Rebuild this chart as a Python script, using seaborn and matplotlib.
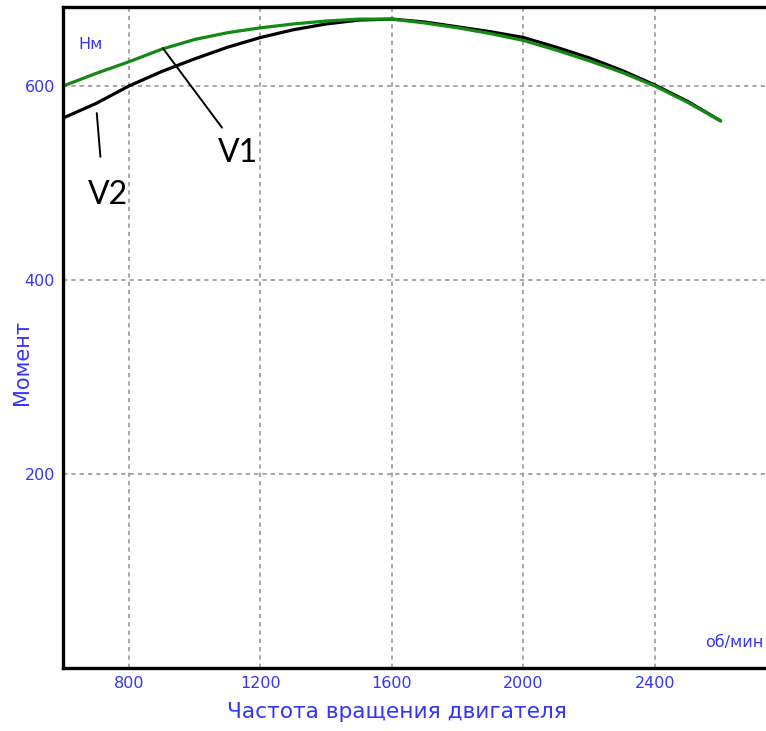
import matplotlib
matplotlib.use("Agg")
import matplotlib.pyplot as plt
from matplotlib.ticker import MultipleLocator
import seaborn as sns
import pandas as pd

# ---- data ----
rpm = [600, 700, 800, 900, 1000, 1100, 1200, 1300, 1400, 1500, 1600,
       1700, 1800, 1900, 2000, 2100, 2200, 2300, 2400, 2500, 2600]
torque_v1 = [600, 613, 625, 638, 648, 655, 660, 664, 667, 669, 669,
             665, 660, 654, 647, 637, 626, 614, 600, 583, 564]
torque_v2 = [567, 582, 600, 615, 628, 640, 650, 658, 664, 668, 669,
             666, 661, 656, 650, 640, 629, 616, 601, 584, 564]
series_names = ["V2", "V1"]
x_ticks = [800, 1200, 1600, 2000, 2400]
y_ticks = [200, 400, 600]
x_label = "Частота вращения двигателя"
y_label = "Момент"
x_unit = "об/мин"
y_unit = "Нм"

df = pd.concat([
    pd.DataFrame({"rpm": rpm, "torque": torque_v2, "series": series_names[0]}),
    pd.DataFrame({"rpm": rpm, "torque": torque_v1, "series": series_names[1]}),
])

sns.set_theme(style="white")
plt.rcParams["font.family"] = ["DejaVu Sans"]

BLUE = "#3434ff"
fig = plt.figure(figsize=(7.66, 7.31), dpi=100)
ax = fig.add_axes([63.25 / 766, (731 - 667.5) / 731, 1 - 63.25 / 766, (667.5 - 6.5) / 731])

sns.lineplot(data=df, x="rpm", y="torque", hue="series",
             palette={"V1": "#138a13", "V2": "#000000"},
             hue_order=["V2", "V1"], linewidth=2.3, legend=False, ax=ax,
             estimator=None, sort=False)

ax.set_xlim(600, 2738)
ax.set_ylim(0, 682)
ax.set_xticks(x_ticks)
ax.set_yticks(y_ticks)
ax.xaxis.set_minor_locator(MultipleLocator(80))
ax.yaxis.set_minor_locator(MultipleLocator(40))
ax.tick_params(axis="both", which="major", direction="in", length=7, width=2.2,
               colors="black", labelcolor=BLUE, labelsize=11.5, pad=6)
ax.tick_params(axis="both", which="minor", direction="in", length=4, width=2,
               colors="black")
ax.tick_params(axis="y", which="minor", length=6)

ax.grid(True, which="major", color="#a0a0a0", linestyle=(0, (2.4, 2.2)), linewidth=1.3)
ax.set_axisbelow(True)

for s in ["left", "bottom", "top"]:
    ax.spines[s].set_visible(True)
    ax.spines[s].set_color("black")
    ax.spines[s].set_linewidth(2.4)
ax.spines["right"].set_visible(False)

ax.set_xlabel(x_label, color=BLUE, fontsize=15.6, labelpad=4)
ax.set_ylabel(y_label, color=BLUE, fontsize=15, labelpad=8)
ax.xaxis.set_label_coords((397 - 63.25) / (766 - 63.25), -0.052)
ax.yaxis.set_label_coords(-0.044, (667.5 - 362) / 661)

ax.text(645, 643, y_unit, color=BLUE, fontsize=11.5, ha="left", va="center")
ax.text(2730, 18, x_unit, color=BLUE, fontsize=11.5, ha="right", va="bottom")

# annotations
ax.plot([903, 1083], [639, 557], color="black", linewidth=1.4)
ax.text(1132, 531, "V1", fontsize=23, family="Lato", ha="center", va="center", color="black")
ax.plot([702, 713], [572, 527], color="black", linewidth=1.4)
ax.text(737, 487, "V2", fontsize=23, family="Lato", ha="center", va="center", color="black")

fig.savefig("out.png", dpi=100)
